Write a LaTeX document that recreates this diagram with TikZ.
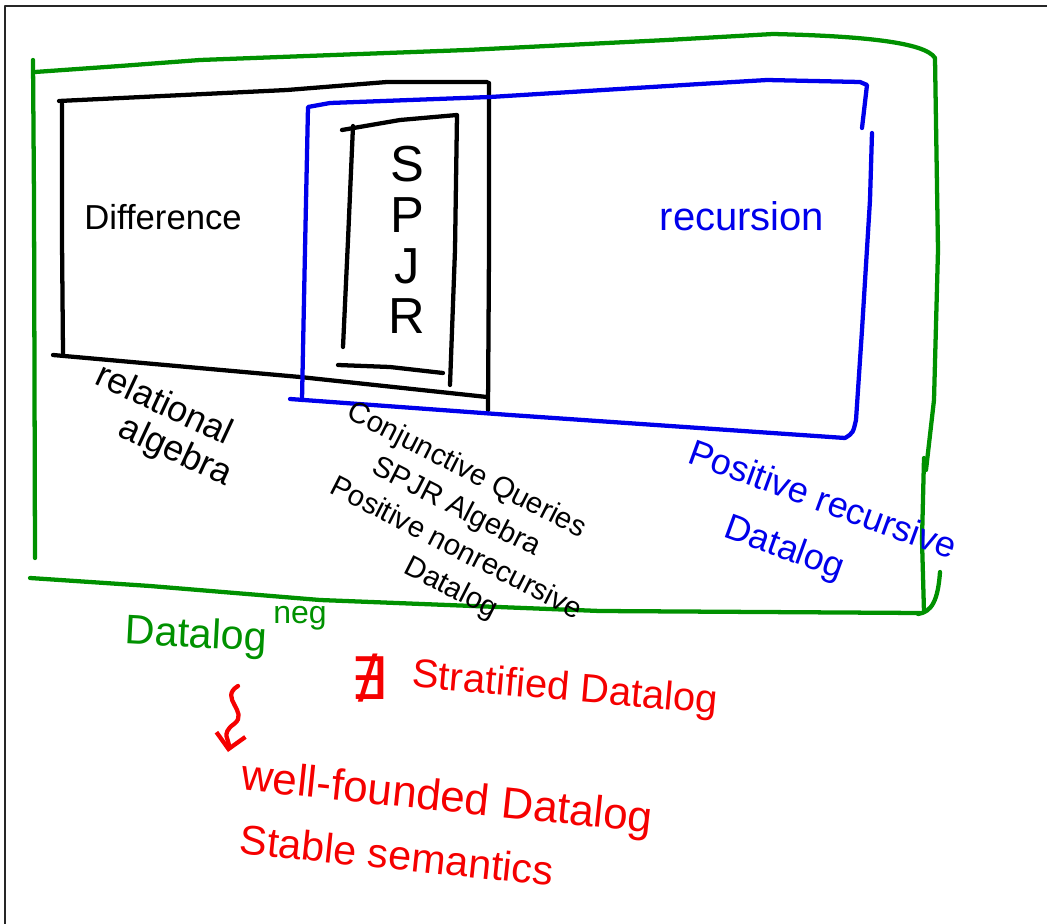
\documentclass[tikz,border=0pt]{standalone}
\usepackage{fontspec}
\setmainfont{Liberation Sans}
\newfontfamily\symfont{DejaVu Sans}
\usetikzlibrary{arrows.meta}
\definecolor{pgreen}{RGB}{0,145,0}
\definecolor{pblue}{RGB}{0,0,235}
\definecolor{pred}{RGB}{245,0,0}
\begin{document}
\begin{tikzpicture}[x=0.75pt,y=-0.75pt,line cap=round,line join=round,
  pen/.style={line width=3.2pt},
  txt/.style={inner sep=0pt,align=center},
  fs/.style={font=\fontsize{#1}{#1}\selectfont}]
\useasboundingbox (0,0) rectangle (1047,924);
% frame
\draw[line width=2pt,black!85] (5,924) -- (5,6) -- (1047,6);
% green region (Datalog with negation)
\draw[pen,pgreen] (33,60) -- (34,200) -- (35,558);
\draw[pen,pgreen] (35,72) -- (120,66) -- (200,60) -- (467,50) -- (667,40) -- (773,34)
  .. controls (860,36) and (925,42) .. (935,58) -- (938,250) -- (934,400) -- (926,470);
\draw[pen,pgreen] (30,578) -- (150,586) -- (320,600) -- (600,611) -- (920,613);
\draw[pen,pgreen] (924,458) -- (922,540) -- (924,612);
\draw[pen,pgreen] (940,572) .. controls (938,600) and (932,612) .. (918,614);
% black box (relational algebra)
\draw[pen] (59,101) -- (287,90) -- (387,82) -- (487,82);
\draw[pen] (62,104) -- (62,240) -- (63,353);
\draw[pen] (53,355) -- (300,377) -- (487,397);
\draw[pen] (489,83) -- (489,250) -- (488,410);
% SPJR box
\draw[pen] (342,130) -- (400,120) -- (457,115) -- (455,250) -- (450,385);
\draw[pen] (353,126) -- (348,240) -- (343,347);
\draw[pen] (338,365) -- (390,367) -- (443,373);
% blue box (recursion)
\draw[pen,pblue] (302,400) -- (305,250) -- (308,107) -- (330,103) -- (490,97) -- (700,84)
  -- (767,80) -- (860,82) -- (867,85) -- (862,128);
\draw[pen,pblue] (872,133) -- (870,200) -- (862,330) -- (856,420)
  .. controls (853,433) .. (845,438) -- (510,415) -- (290,399);
% labels
\node[txt,fs=26] (diff) at (163,217) {Difference};
\node[txt,fs=30,text=pblue] (recn) at (742,216) {recursion};
\node[txt,font=\fontsize{38}{38}\selectfont] (spjr) at (407,240) {S\\P\\J\\R};
\node[txt,font=\fontsize{27}{28}\selectfont,rotate=-25] (ra) at (156,423)
  {relational\\\hspace*{45pt}algebra};
\node[txt,font=\fontsize{22}{28}\selectfont,rotate=-27] (cq) at (441,521)
  {Conjunctive Queries\\\hspace*{11pt}SPJR Algebra\\\hspace*{39pt}Positive nonrecursive\\\hspace*{59pt}Datalog};
\node[txt,font=\fontsize{27}{43}\selectfont,rotate=-20,text=pblue] (pr) at (812,529)
  {Positive recursive\\Datalog\hspace*{29pt}};
\node[txt,fs=31,rotate=-3,text=pgreen] (dl) at (196,637) {Datalog};
\node[txt,fs=24,text=pgreen] (neg) at (300,618) {neg};
\node[txt,font=\symfont\fontsize{44}{44}\selectfont,text=pred] (nex) at (369,678) {∄};
\node[txt,fs=30,rotate=-5,text=pred] (strat) at (565,690) {Stratified Datalog};
\node[txt,fs=33,rotate=-6,text=pred] (wf) at (447,800) {well-founded Datalog};
\node[txt,fs=31,rotate=-6,text=pred] (stab) at (397,855) {Stable semantics};
% squiggle arrow
\coordinate (sqa) at (238,686);
\coordinate (sqb) at (228,752);
\draw[pen,pred,-{Straight Barb[length=11pt,width=22pt]}] (sqa)
  .. controls (218,698) and (250,712) .. (234,724)
  .. controls (220,734) and (230,740) .. (sqb);
\end{tikzpicture}
\end{document}
